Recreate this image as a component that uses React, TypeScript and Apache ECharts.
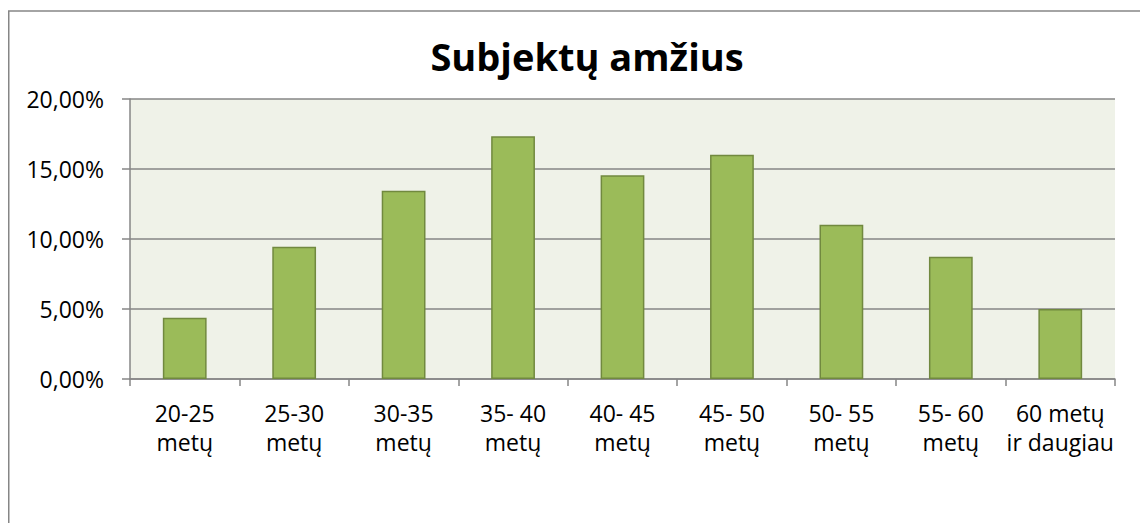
import React, { useEffect, useRef } from "react";
import * as echarts from "echarts";

const title = "Subjektų amžius";
const categories = [
  "20-25\nmetų",
  "25-30\nmetų",
  "30-35\nmetų",
  "35- 40\nmetų",
  "40- 45\nmetų",
  "45- 50\nmetų",
  "50- 55\nmetų",
  "55- 60\nmetų",
  "60 metų\nir daugiau",
];
const values = [4.38, 9.45, 13.45, 17.34, 14.55, 16.02, 11.02, 8.74, 5.0];
const yMin = 0;
const yMax = 20;
const yInterval = 5;

const FONT = "'Open Sans', 'Noto Sans', sans-serif";
const AXIS_GRAY = "#868686";

export default function App() {
  const ref = useRef<HTMLDivElement>(null);
  useEffect(() => {
    if (!ref.current) return;
    const chart = echarts.init(ref.current, undefined, { renderer: "svg" });
    chart.setOption({
      animation: false,
      backgroundColor: "#ffffff",
      title: {
        text: title,
        left: 574,
        top: 24,
        textAlign: "center",
        textStyle: {
          fontFamily: FONT,
          fontSize: 38,
          fontWeight: "bold",
          color: "#000",
        },
      },
      graphic: [
        {
          type: "rect",
          shape: { x: 0.75, y: 3, width: 1200, height: 700 },
          style: { fill: "none", stroke: AXIS_GRAY, lineWidth: 1.5 },
          silent: true,
          z: -1,
        },
      ],
      grid: {
        left: 122,
        top: 91,
        right: 33,
        bottom: 144,
        show: true,
        backgroundColor: "#EFF2E8",
        borderWidth: 0,
      },
      xAxis: {
        type: "category",
        data: categories,
        axisLine: { show: true, lineStyle: { color: AXIS_GRAY, width: 1.5 } },
        axisTick: { show: true, length: 7, lineStyle: { color: AXIS_GRAY, width: 1.5 } },
        axisLabel: {
          interval: 0,
          margin: 19,
          fontFamily: FONT,
          fontSize: 23,
          lineHeight: 29,
          color: "#000",
        },
      },
      yAxis: {
        type: "value",
        min: yMin,
        max: yMax,
        interval: yInterval,
        axisLine: { show: true, lineStyle: { color: AXIS_GRAY, width: 1.5 } },
        axisTick: { show: true, length: 8, lineStyle: { color: AXIS_GRAY, width: 1.5 } },
        splitLine: { show: true, lineStyle: { color: AXIS_GRAY, width: 1.5 } },
        axisLabel: {
          margin: 26,
          fontFamily: FONT,
          fontSize: 23,
          color: "#000",
          formatter: (v: number) => v.toFixed(2).replace(".", ",") + "%",
        },
      },
      series: [
        {
          type: "bar",
          data: values,
          barWidth: "40%",
          itemStyle: {
            color: "#9BBB59",
            borderColor: "#71893F",
            borderWidth: 1.5,
          },
        },
      ],
    });
    return () => chart.dispose();
  }, []);
  return <div ref={ref} style={{ width: 1140, height: 515 }} />;
}
